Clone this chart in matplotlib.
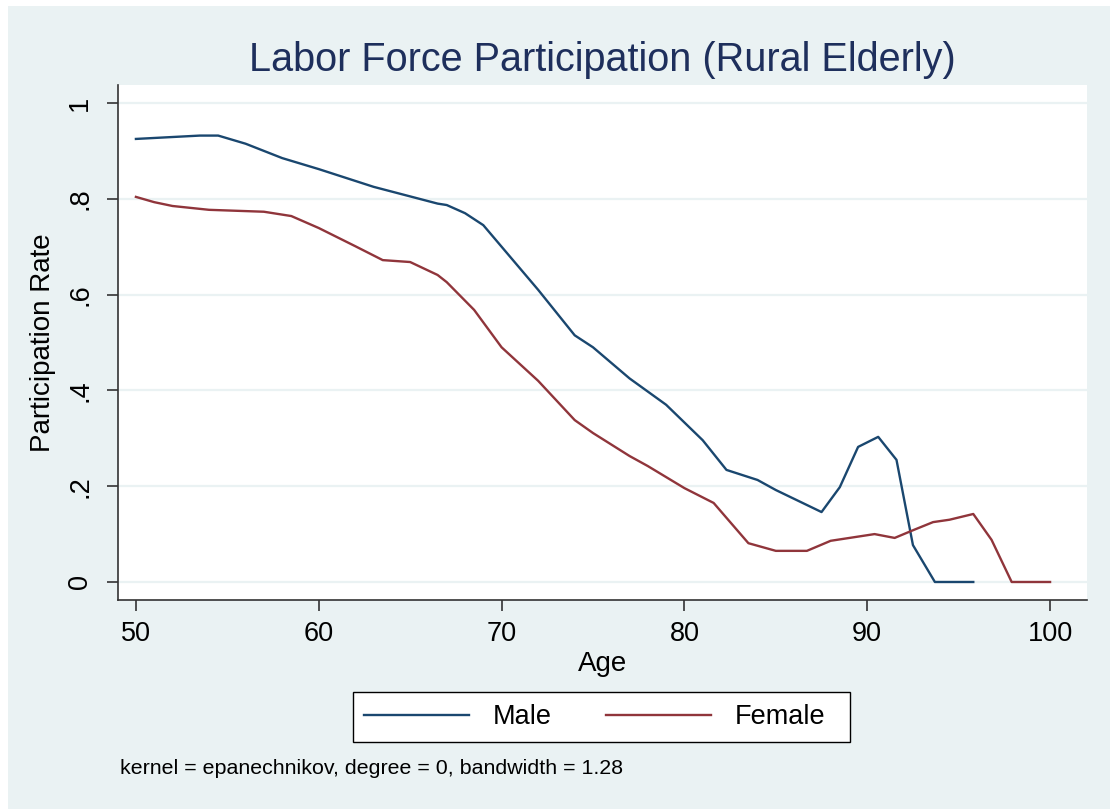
import matplotlib.pyplot as plt
from matplotlib.patches import Rectangle

# smoothed participation rates
age_male = [50, 51.5, 53.5, 54.5, 56, 58, 60, 63, 66.5, 67, 68, 69, 70, 72, 74,
            75, 77, 79, 81, 82.3, 84, 85, 87.5, 88.5, 89.5, 90.6, 91.6, 92.5,
            93.7, 95.8]
male = [0.925, 0.928, 0.932, 0.932, 0.915, 0.885, 0.862, 0.825, 0.79, 0.787,
        0.77, 0.745, 0.70, 0.61, 0.515, 0.49, 0.425, 0.37, 0.296, 0.234,
        0.213, 0.192, 0.146, 0.198, 0.282, 0.303, 0.255, 0.077, 0.0, 0.0]

age_female = [50, 51, 52, 54, 57, 58.5, 60, 62, 63.5, 65, 66.5, 67, 68.5, 70,
              72, 74, 75, 77, 78, 80, 81.6, 82.3, 83.5, 85, 86.7, 88, 90.4,
              91.5, 92.5, 93.6, 94.5, 95.8, 96.8, 97.9, 100]
female = [0.804, 0.793, 0.785, 0.777, 0.773, 0.764, 0.739, 0.701, 0.672,
          0.668, 0.641, 0.626, 0.568, 0.49, 0.42, 0.338, 0.311, 0.263, 0.242,
          0.196, 0.165, 0.134, 0.081, 0.065, 0.065, 0.086, 0.10, 0.092, 0.108,
          0.125, 0.13, 0.142, 0.088, 0.0, 0.0]

xticks = [50, 60, 70, 80, 90, 100]
yticks = [0, 0.2, 0.4, 0.6, 0.8, 1]
ylabels = ['0', '.2', '.4', '.6', '.8', '1']

bg = '#eaf2f3'
navy = '#1a476f'
maroon = '#90353b'

plt.rcParams['font.family'] = 'Liberation Sans'

fig = plt.figure(figsize=(11.1, 8.09), dpi=100, facecolor='white')
fig.patches.append(Rectangle((8 / 1110, 0), 1, 1 - 6 / 809, transform=fig.transFigure,
                             facecolor=bg, edgecolor='none', zorder=-10))

ax = fig.add_axes([118 / 1110, 1 - 600 / 809, (1087 - 118) / 1110, (600 - 85) / 809])
ax.set_facecolor('white')

ax.plot(age_male, male, color=navy, lw=1.7, label='Male')
ax.plot(age_female, female, color=maroon, lw=1.7, label='Female')

ax.set_xlim(49.02, 102.02)
ax.set_ylim(-0.0376, 1.0376)
ax.set_xticks(xticks)
ax.set_yticks(yticks)
ax.set_yticklabels(ylabels, rotation=90, va='center')
ax.grid(axis='y', color=bg, lw=1.6)
ax.set_axisbelow(True)
for s in ['top', 'right']:
    ax.spines[s].set_visible(False)
for s in ['left', 'bottom']:
    ax.spines[s].set_color('#333333')
    ax.spines[s].set_linewidth(1.2)
ax.tick_params(length=8, width=1.2, color='#333333', labelsize=19.5)
ax.tick_params(axis='x', pad=7)
ax.tick_params(axis='y', pad=10)

ax.set_xlabel('Age', fontsize=20, labelpad=3)
ax.set_ylabel('Participation Rate', fontsize=20, labelpad=8)
ax.set_title('Labor Force Participation (Rural Elderly)', fontsize=28.5,
             color='#1e2f5c', pad=10)

# legend box (frame drawn separately so it keeps the reference width)
fig.patches.append(Rectangle((353 / 1110, 1 - 742 / 809), 497 / 1110, 50 / 809,
                             transform=fig.transFigure, facecolor='white',
                             edgecolor='black', lw=1.0, zorder=1))
leg = fig.legend(loc='center left', ncol=2, frameon=False,
                 bbox_to_anchor=(353 / 1110, 1 - 717 / 809),
                 fontsize=19.5, handlelength=3.9, handletextpad=0.85,
                 columnspacing=2.0, borderpad=0.4, borderaxespad=0)
leg.set_zorder(2)

fig.text(120 / 1110, 1 - 768 / 809, 'kernel = epanechnikov, degree = 0, bandwidth = 1.28',
         fontsize=15.4, va='center')

fig.savefig('out.png', dpi=100, facecolor=fig.get_facecolor())
